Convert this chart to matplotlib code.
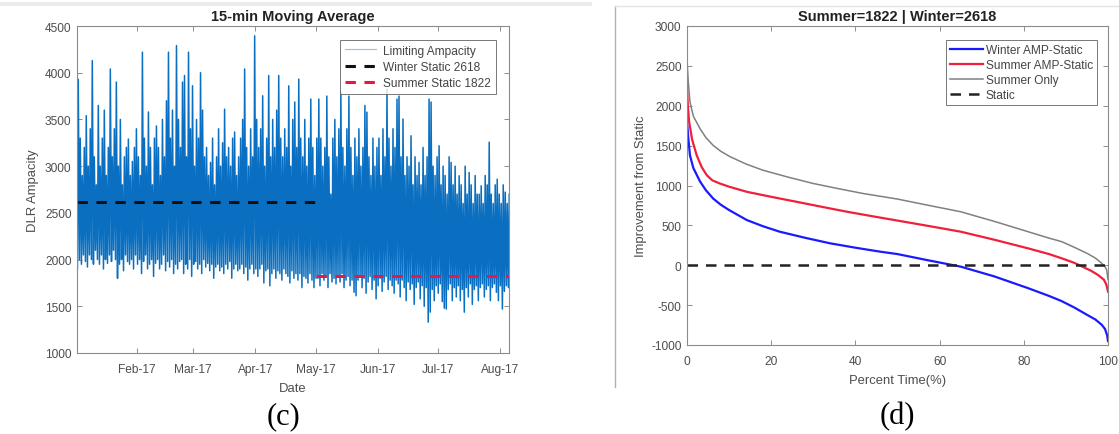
import matplotlib
matplotlib.use("Agg")
import matplotlib.pyplot as plt
import matplotlib.dates as mdates
from matplotlib.lines import Line2D
import numpy as np
import pandas as pd

# ---------------- data: panel (c) ----------------
start_date = "2017-01-02"
daily_high = [
    3930, 3300, 2900, 3200, 3540, 3000, 3400, 4130, 3100, 2800,
    3650, 3000, 3300, 3600, 2900, 3200, 4040, 3100, 3400, 3900,
    3000, 3500, 2800, 3100, 3200, 3290, 2900, 3050, 3200, 3400,
    3100, 2900, 4220, 3300, 3000, 3580, 3200, 2800, 3300, 3430,
    3200, 2900, 3500, 3100, 3700, 4220, 3300, 3600, 3000, 4290,
    3500, 3200, 3900, 3970, 3100, 4220, 3400, 3860, 3000, 3500,
    3300, 4000, 3600, 3100, 3200, 2900, 3040, 3300, 2800, 3100,
    3400, 3000, 3250, 3610, 3100, 3200, 3000, 3300, 3365, 2900,
    3100, 3300, 3500, 4040, 3200, 3000, 3400, 3100, 4395, 3500,
    3200, 3400, 3753, 3000, 3300, 3970, 3100, 3500, 3200, 3600,
    3970, 3300, 3100, 3400, 3200, 3860, 3000, 3500, 3686, 3200,
    3932, 3300, 3100, 3500, 3000, 3300, 3718, 3200, 2900, 3300,
    3718, 3300, 3000, 3200, 3750, 3100, 2700, 3300, 3500, 3100,
    3400, 3793, 3200, 3000, 3400, 3750, 3200, 2900, 3300, 3100,
    3400, 3000, 3200, 3650, 3578, 3100, 2900, 3300, 3000, 3200,
    3300, 2900, 3400, 3100, 3825, 3300, 3000, 3400, 3200, 3718,
    3750, 3100, 3504, 2900, 3100, 3000, 3325, 2800, 3100, 2900,
    3040, 2800, 3200, 2900, 3100, 3718, 3686, 3000, 2900, 3100,
    3218, 2800, 3000, 2900, 2700, 3100, 3040, 2800, 3000, 2700,
    2897, 2800, 2600, 3000, 2700, 2932, 2800, 2600, 2900, 2700,
    2700, 2790, 2600, 2900, 2800, 3257, 2700, 2600, 2800, 2860,
    2700, 2600, 2800, 2722, 2600, 2700,
]
daily_low = [
    1900, 2000, 1950, 2050, 1980, 1920, 2050, 2000, 1950, 2100,
    2000, 1950, 2050, 1900, 2000, 1960, 2050, 1980, 2100, 2000,
    1800, 1950, 2000, 1880, 2050, 1980, 1950, 2000, 1900, 2050,
    1950, 2000, 1850, 1980, 2050, 1900, 1950, 2000, 1820, 1960,
    2000, 1900, 1950, 2050, 1880, 1980, 1920, 2000, 1850, 1950,
    1900, 1980, 2000, 1850, 1950, 1900, 2000, 1820, 1950, 1980,
    1900, 1950, 1850, 2000, 1920, 1960, 1880, 1950, 1800, 1920,
    1950, 1880, 1920, 1850, 1950, 1900, 1980, 1800, 1900, 1950,
    1880, 1900, 1950, 1850, 1920, 1780, 1900, 1950, 1850, 1900,
    1820, 1900, 1950, 1750, 1880, 1900, 1720, 1850, 1900, 1800,
    1880, 1850, 1780, 1900, 1850, 1820, 1750, 1880, 1800, 1850,
    1780, 1850, 1700, 1820, 1800, 1750, 1850, 1780, 1700, 1800,
    1800, 1720, 1850, 1780, 1820, 1700, 1850, 1760, 1800, 1740,
    1820, 1760, 1850, 1700, 1780, 1820, 1720, 1780, 1650, 1613,
    1780, 1820, 1700, 1800, 1640, 1760, 1820, 1680, 1780, 1580,
    1720, 1800, 1660, 1760, 1820, 1680, 1780, 1720, 1640, 1780,
    1740, 1600, 1780, 1700, 1560, 1760, 1680, 1740, 1520, 1700,
    1760, 1580, 1720, 1500, 1700, 1330, 1437, 1680, 1560, 1720,
    1640, 1740, 1550, 1480, 1470, 1680, 1740, 1560, 1700, 1600,
    1720, 1560, 1680, 1437, 1700, 1600, 1740, 1520, 1680, 1720,
    1560, 1700, 1740, 1600, 1680, 1720, 1560, 1700, 1740, 1650,
    1560, 1720, 1470, 1660, 1720, 1700,
]
winter_static = 2618
summer_static = 1822
winter_period = ["2017-01-02 00:00", "2017-05-01 00:00"]
summer_period = ["2017-05-01 00:00", "2017-08-05 12:00"]
month_ticks = ["2017-02-01", "2017-03-01", "2017-04-01", "2017-05-01",
               "2017-06-01", "2017-07-01", "2017-08-01"]

# ---------------- data: panel (d) ----------------
winter_x = [0, 0.3, 0.7, 1.5, 3.1, 4.5, 6.2, 8, 10, 14.2, 18, 22, 28, 34, 40, 45.8, 50,
            57, 65, 73, 81, 86, 89, 92, 95, 97, 98.5, 99.3, 99.8, 100]
winter_y = [1800, 1600, 1379, 1220, 1050, 940, 837, 760, 692, 567, 490, 421, 345, 275, 220, 171, 140,
            65, -17, -140, -287, -385, -450, -530, -621, -680, -746, -800, -880, -950]
summer_x = [0, 0.2, 0.5, 1.2, 2.3, 3.5, 4.7, 6, 7.8, 10, 14.2, 20, 26, 32, 38, 44, 50,
            57, 65, 73, 81, 86, 89, 92, 93.7, 96, 97.6, 99, 99.6, 100]
summer_y = [2254, 2000, 1800, 1580, 1379, 1230, 1129, 1065, 1025, 985, 921, 858, 796, 733, 671, 615, 560,
            496, 421, 320, 212, 140, 87, 30, -12, -70, -121, -180, -240, -330]
only_x = [0, 0.3, 0.7, 1.5, 3.1, 4.5, 6.2, 8, 10.2, 14, 18, 24, 30, 36, 41.8, 50,
          57, 65, 73, 81, 86, 89, 92, 95, 97, 98.5, 99.3, 99.7, 100]
only_y = [2580, 2300, 2050, 1870, 1712, 1600, 1504, 1430, 1362, 1270, 1192, 1105, 1025, 960, 900, 830,
          755, 671, 550, 421, 340, 296, 225, 150, 90, 25, -20, -60, -180]
static_x = [0, 100]
static_y = [0, 0]

# ---------------- style ----------------
plt.rcParams['font.family'] = ['Liberation Sans', 'DejaVu Sans']
plt.rcParams['axes.unicode_minus'] = False
TXT = '#4d4d4d'
SP = '#8c8c8c'
FS = 8.6

fig = plt.figure(figsize=(11.19, 4.35), dpi=100)
W, H = 1119, 435

def style_axes(ax):
    for s in ax.spines.values():
        s.set_color(SP)
        s.set_linewidth(0.8)
    ax.tick_params(direction='in', length=3.5, width=0.7, color=SP,
                   labelsize=FS, labelcolor=TXT, top=True, right=True, pad=4)
    ax.tick_params(axis='x', pad=7)

# ---- panel (c)
ax1 = fig.add_axes([77 / W, 1 - 354 / H, (509 - 77) / W, (354 - 27) / H])
days = pd.date_range(start_date, periods=len(daily_high), freq='D')
t_low = days + pd.Timedelta(hours=5)
t_high = days + pd.Timedelta(hours=15)
times = np.empty(2 * len(days), dtype='datetime64[ns]')
vals = np.empty(2 * len(days))
times[0::2] = t_low.values
times[1::2] = t_high.values
vals[0::2] = daily_low
vals[1::2] = daily_high
ax1.plot(times, vals, color='#0a6fc0', lw=1.1, label='Limiting Ampacity')
ax1.plot(pd.to_datetime(winter_period), [winter_static] * 2, color='#111111',
         lw=2.2, ls=(0, (3.4, 2.8)), label='Winter Static 2618')
ax1.plot(pd.to_datetime(summer_period), [summer_static] * 2, color='#e8174a',
         lw=2.2, ls=(0, (3.4, 2.8)), label='Summer Static 1822')
ax1.set_xlim(pd.Timestamp("2017-01-02"), pd.Timestamp("2017-08-05 12:00"))
ax1.set_ylim(1000, 4500)
ax1.set_yticks(np.arange(1000, 4501, 500))
ax1.set_xticks(pd.to_datetime(month_ticks))
ax1.xaxis.set_major_formatter(mdates.DateFormatter('%b-%y'))
style_axes(ax1)
ax1.set_xlabel('Date', fontsize=FS + 0.8, color=TXT, labelpad=5)
ax1.set_ylabel('DLR Ampacity', fontsize=FS + 0.8, color=TXT, labelpad=4)
ax1.set_title('15-min Moving Average', fontsize=10.5, fontweight='bold', color='#222222', pad=4)
leg1 = ax1.legend(loc='upper right', bbox_to_anchor=(0.970, 0.958), fontsize=FS,
                  frameon=True, fancybox=False, edgecolor='#555555', handlelength=2.6,
                  borderpad=0.4, labelspacing=0.35, handletextpad=0.6, borderaxespad=0)
leg1.get_frame().set_linewidth(0.7)
for t in leg1.get_texts():
    t.set_color('#444444')
leg1.get_lines()[0].set_color('#8fc3e8')
leg1.get_lines()[0].set_linewidth(0.8)

# ---- panel (d)
ax2 = fig.add_axes([687 / W, 1 - 346 / H, (1108 - 687) / W, (346 - 27) / H])
ax2.plot(winter_x, winter_y, color='#1a1aff', lw=1.6, label='Winter AMP-Static')
ax2.plot(summer_x, summer_y, color='#f0203c', lw=1.6, label='Summer AMP-Static')
ax2.plot(only_x, only_y, color='#808080', lw=1.1, label='Summer Only')
ax2.plot(static_x, static_y, color='#222222', lw=1.8, ls=(0, (4.2, 3.2)), label='Static')
ax2.set_xlim(0, 100)
ax2.set_ylim(-1000, 3000)
ax2.set_xticks(np.arange(0, 101, 20))
ax2.set_yticks(np.arange(-1000, 3001, 500))
style_axes(ax2)
ax2.set_xlabel('Percent Time(%)', fontsize=FS + 0.8, color=TXT, labelpad=5)
ax2.set_ylabel('Improvement from Static', fontsize=FS + 0.8, color=TXT, labelpad=3)
ax2.set_title('Summer=1822 | Winter=2618', fontsize=10.5, fontweight='bold', color='#222222', pad=4)
leg2 = ax2.legend(loc='upper right', bbox_to_anchor=(0.974, 0.956), fontsize=FS,
                  frameon=True, fancybox=False, edgecolor='#555555', handlelength=2.8,
                  borderpad=0.35, labelspacing=0.25, handletextpad=0.2, borderaxespad=0)
leg2.get_frame().set_linewidth(0.7)
for t in leg2.get_texts():
    t.set_color('#444444')

# panel letters
fig.text(283 / W, 1 - 417 / H, '(c)', family=['Liberation Serif', 'DejaVu Serif'],
         fontsize=22, ha='center', va='center', color='black')
fig.text(897 / W, 1 - 417 / H, '(d)', family=['Liberation Serif', 'DejaVu Serif'],
         fontsize=22, ha='center', va='center', color='black')

# faint image borders of the original panels
fig.add_artist(Line2D([615 / W, 615 / W], [1 - 388 / H, 1 - 7 / H], color='#b0b0b0', lw=1.0))
fig.add_artist(Line2D([615 / W, 1.0], [1 - 7 / H, 1 - 7 / H], color='#e4e4e4', lw=1.0))
fig.add_artist(Line2D([0, 590 / W], [1 - 5 / H, 1 - 5 / H], color='#ececec', lw=3.0))

fig.savefig('out.png', dpi=100)
